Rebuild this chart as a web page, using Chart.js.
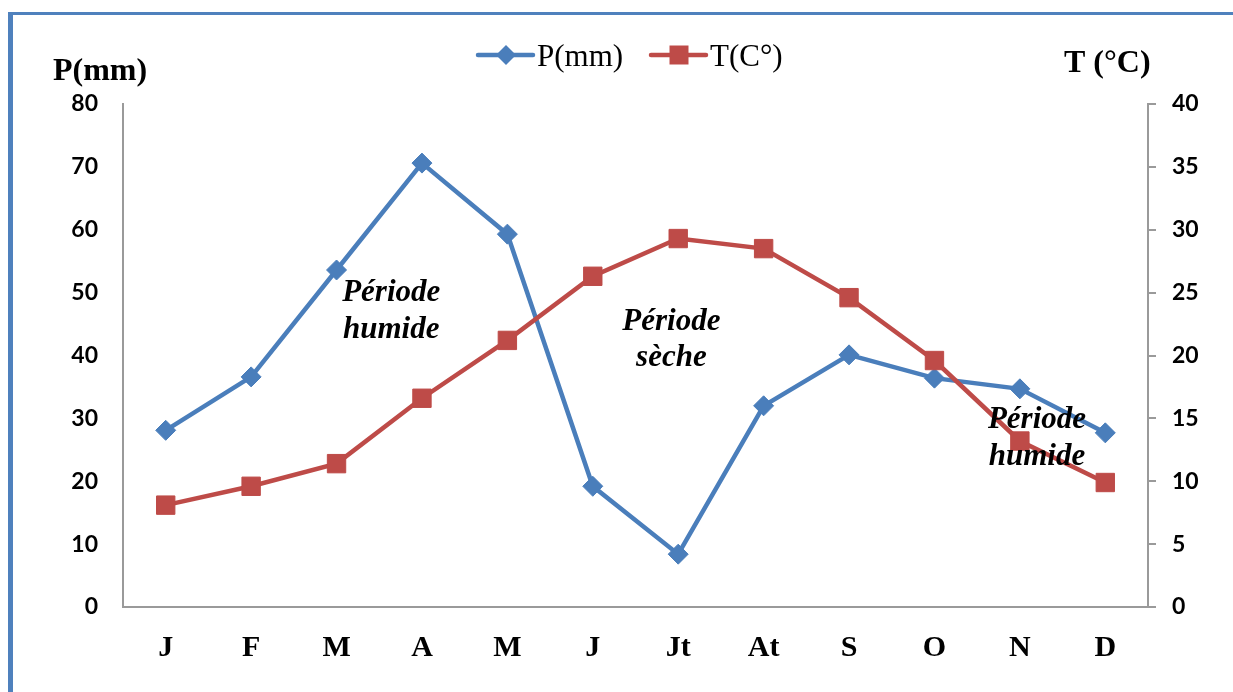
<!DOCTYPE html>
<html>
<head>
<meta charset="utf-8">
<script src="https://cdn.jsdelivr.net/npm/chart.js@4.4.0/dist/chart.umd.min.js"></script>
<style>
body { margin: 0; background: #fff; }
#wrap { position: relative; width: 1233px; height: 692px; overflow: hidden; }
#frame { position: absolute; left: 8px; top: 12px; right: -10px; bottom: -10px; border-left: 5px solid #4f81bd; border-top: 3px solid #4f81bd; }
#myChart { position: absolute; left: 0; top: 0; }
</style>
</head>
<body>
<div id="wrap">
  <div id="frame"></div>
  <canvas id="myChart" width="1233" height="692"></canvas>
</div>
<script>
let months = ['J', 'F', 'M', 'A', 'M', 'J', 'Jt', 'At', 'S', 'O', 'N', 'D'];
let precip = [28.1, 36.6, 53.6, 70.6, 59.3, 19.2, 8.4, 32.0, 40.1, 36.4, 34.7, 27.7];
let temp = [8.1, 9.6, 11.4, 16.6, 21.2, 26.3, 29.3, 28.5, 24.6, 19.6, 13.2, 9.9];
let seriesNames = ['P(mm)', 'T(C°)'];
let pRange = [0, 80, 10];
let tRange = [0, 40, 5];

// period labels, placed in data units (month index, P value)
let notes = [
    { lines: ['Période', 'humide'], at: 2.64, p: [49.9, 44.0] },
    { lines: ['Période', 'sèche'], at: 5.92, p: [45.3, 39.6] },
    { lines: ['Période', 'humide'], at: 10.2, p: [29.7, 23.8] }
];

const blue = '#4a7ebb';
const red = '#be4b48';
const axisGrey = '#9a9a9a';

let drawMarker = (ctx, style, x, y, color) => {
    ctx.fillStyle = color;
    ctx.beginPath();
    if (style === 'rectRot') {
        ctx.moveTo(x - 10, y); ctx.lineTo(x, y - 10);
        ctx.lineTo(x + 10, y); ctx.lineTo(x, y + 10);
        ctx.closePath();
    } else {
        ctx.rect(x - 9.5, y - 9.5, 19, 19);
    }
    ctx.fill();
};

let extras = {
    id: 'extras',
    afterDatasetsDraw(chart) {
        let ctx = chart.ctx;
        let xs = chart.scales.x, ys = chart.scales.yP;
        ctx.save();
        ctx.fillStyle = '#000';
        ctx.textAlign = 'center';
        ctx.textBaseline = 'middle';
        ctx.font = 'italic bold 31px "Liberation Serif"';
        notes.forEach(n => {
            n.lines.forEach((t, i) => {
                ctx.fillText(t, xs.getPixelForValue(n.at), ys.getPixelForValue(n.p[i]));
            });
        });

        // axis titles
        ctx.textAlign = 'left';
        ctx.textBaseline = 'alphabetic';
        ctx.font = 'bold 32px "Liberation Serif"';
        ctx.fillText('P(mm)', 53, 80);
        ctx.fillText('T (°C)', 1064, 72);

        // legend
        let items = [
            { x: 478, color: blue, style: 'rectRot', text: seriesNames[0] },
            { x: 651, color: red, style: 'rect', text: seriesNames[1] }
        ];
        items.forEach(it => {
            ctx.strokeStyle = it.color;
            ctx.lineWidth = 4.5;
            ctx.lineCap = 'round';
            ctx.beginPath();
            ctx.moveTo(it.x, 55);
            ctx.lineTo(it.x + 55, 55);
            ctx.stroke();
            drawMarker(ctx, it.style, it.x + 28, 55, it.color);
            ctx.fillStyle = '#000';
            ctx.font = '31px "Liberation Serif"';
            ctx.fillText(it.text, it.x + 59, 66);
        });
        ctx.restore();
    }
};

let tickFont = { family: 'Lato', size: 23, weight: 'bold' };

let myChart = new Chart(document.getElementById('myChart').getContext('2d'), {
    type: 'line',
    data: {
        labels: months,
        datasets: [{
            label: seriesNames[0],
            data: precip,
            yAxisID: 'yP',
            borderColor: blue,
            backgroundColor: blue,
            pointBackgroundColor: blue,
            pointBorderColor: blue,
            borderWidth: 4.5,
            pointStyle: 'rectRot',
            pointRadius: 10,
            pointBorderWidth: 1,
            tension: 0,
            order: 1
        }, {
            label: seriesNames[1],
            data: temp,
            yAxisID: 'yT',
            borderColor: red,
            backgroundColor: red,
            pointBackgroundColor: red,
            pointBorderColor: red,
            borderWidth: 4.5,
            pointStyle: 'rect',
            pointRadius: 13,
            pointBorderWidth: 1,
            tension: 0,
            order: 0
        }]
    },
    options: {
        responsive: false,
        animation: false,
        layout: { padding: { top: 104, left: 0, right: 0, bottom: 0 } },
        plugins: {
            legend: { display: false },
            tooltip: { enabled: false }
        },
        scales: {
            x: {
                offset: true,
                grid: { display: false, drawTicks: false },
                border: { color: axisGrey, width: 2 },
                ticks: {
                    color: '#000',
                    font: { family: 'Liberation Serif', size: 30, weight: 'bold' },
                    padding: 23,
                    maxRotation: 0,
                    autoSkip: false
                },
                afterFit(s) { s.height = 85; }
            },
            yP: {
                position: 'left',
                min: pRange[0],
                max: pRange[1],
                grid: { drawOnChartArea: false, drawTicks: false },
                border: { color: axisGrey, width: 2 },
                ticks: { stepSize: pRange[2], color: '#000', font: tickFont, padding: 25 },
                afterFit(s) { s.width = 123; }
            },
            yT: {
                position: 'right',
                min: tRange[0],
                max: tRange[1],
                grid: { drawOnChartArea: false, tickLength: 8, color: axisGrey, lineWidth: 2 },
                border: { color: axisGrey, width: 2 },
                ticks: { stepSize: tRange[2], color: '#000', font: tickFont, padding: 16 },
                afterFit(s) { s.width = 85; }
            }
        }
    },
    plugins: [extras]
});
</script>
</body>
</html>
